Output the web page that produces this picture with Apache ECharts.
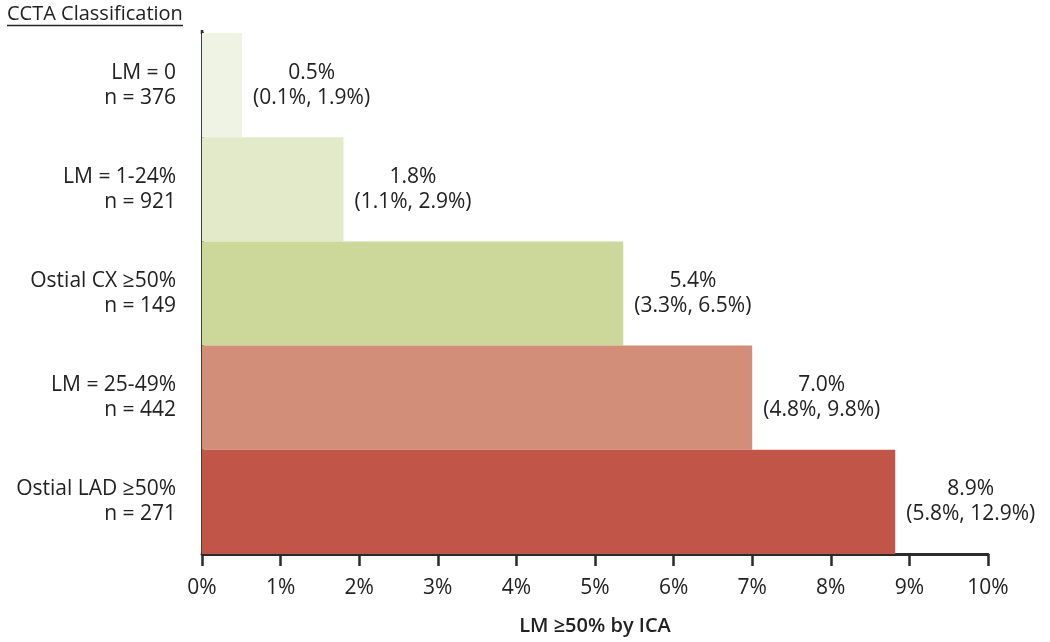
<!DOCTYPE html>
<html>
<head>
<meta charset="utf-8">
<script src="https://cdn.jsdelivr.net/npm/echarts@6/dist/echarts.min.js"></script>
<style>html,body{margin:0;padding:0;background:#fff}#c{width:1050px;height:642px}</style>
</head>
<body>
<div id="c"></div>
<script>
const categories = ['LM = 0', 'LM = 1-24%', 'Ostial CX \u226550%', 'LM = 25-49%', 'Ostial LAD \u226550%'];
const counts = ['n = 376', 'n = 921', 'n = 149', 'n = 442', 'n = 271'];
const values = [0.51, 1.8, 5.36, 7.0, 8.82];
const pointLabels = ['0.5%', '1.8%', '5.4%', '7.0%', '8.9%'];
const ciLabels = ['(0.1%, 1.9%)', '(1.1%, 2.9%)', '(3.3%, 6.5%)', '(4.8%, 9.8%)', '(5.8%, 12.9%)'];
const colors = ['#eff3e3', '#e2eac9', '#cbd899', '#d38e7a', '#c05548'];
const xTicks = [0, 1, 2, 3, 4, 5, 6, 7, 8, 9, 10];

const FONT = '"Open Sans", "Noto Sans", sans-serif';
const TXT = '#222';
const FS = 21;
const chart = echarts.init(document.getElementById('c'), null, {renderer: 'canvas'});
chart.setOption({
  animation: false,
  backgroundColor: '#fff',
  grid: {left: 202, right: 62, top: 33, bottom: 88, containLabel: false},
  graphic: [
    {type: 'text', left: 7, top: 4, style: {text: 'CCTA Classification', fill: TXT, font: '20px ' + FONT}},
    {type: 'line', shape: {x1: 7, y1: 25.5, x2: 183, y2: 25.5}, style: {stroke: TXT, lineWidth: 1.3}},
    {type: 'line', shape: {x1: 202, y1: 30, x2: 202, y2: 34}, style: {stroke: '#333', lineWidth: 2.5}}
  ],
  xAxis: {
    type: 'value', min: xTicks[0], max: xTicks[xTicks.length - 1], interval: 1,
    axisLine: {show: true, lineStyle: {color: '#2b2b2b', width: 2.8}},
    axisTick: {show: true, length: 12, lineStyle: {color: '#2b2b2b', width: 2.5}},
    splitLine: {show: false},
    axisLabel: {color: TXT, fontSize: FS, fontFamily: FONT, margin: 24, formatter: v => v + '%'},
    name: 'LM \u226550% by ICA', nameLocation: 'middle', nameGap: 62,
    nameTextStyle: {color: TXT, fontSize: 20, fontFamily: FONT, fontWeight: 600}
  },
  yAxis: {
    type: 'category', data: categories, inverse: true,
    axisLine: {show: true, lineStyle: {color: '#2b2b2b', width: 2.8}},
    axisTick: {show: false},
    axisLabel: {
      color: TXT, fontSize: FS, fontFamily: FONT, margin: 26, lineHeight: 25, align: 'right',
      formatter: (v, i) => v + '\n' + counts[i]
    }
  },
  series: [{
    type: 'bar', barCategoryGap: 0, barWidth: '100%',
    data: values.map((v, i) => ({value: v, itemStyle: {color: colors[i]}})),
    label: {
      show: true, position: 'right', distance: 11,
      formatter: p => '{a|' + pointLabels[p.dataIndex] + '}\n{a|' + ciLabels[p.dataIndex] + '}',
      rich: {a: {color: TXT, fontSize: FS, fontFamily: FONT, lineHeight: 25, align: 'center'}}
    }
  }]
});
</script>
</body>
</html>
